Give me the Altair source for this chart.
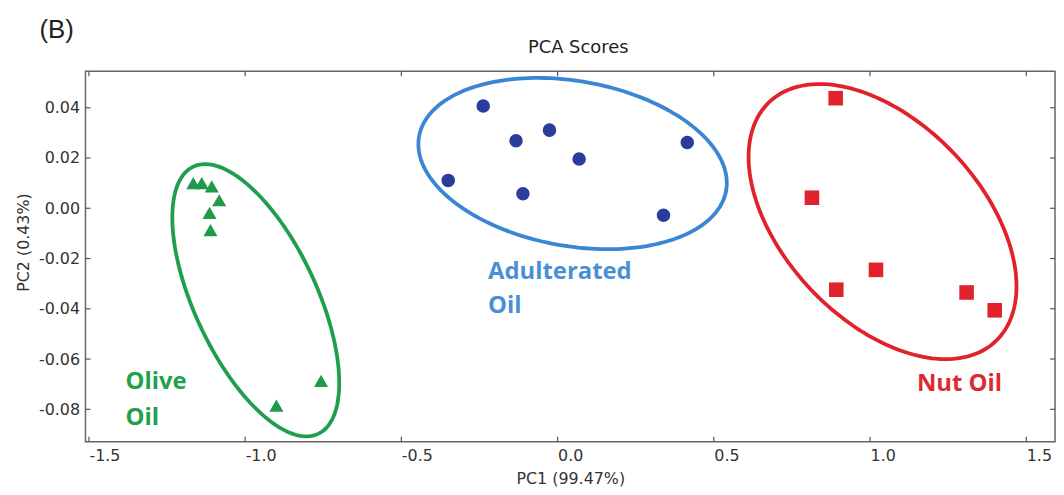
import altair as alt
import numpy as np
import pandas as pd

# ---------------- data ----------------
groups = ["Olive Oil", "Adulterated Oil", "Nut Oil"]

olive_pc1 = [-1.166, -1.139, -1.107, -1.083, -1.114, -1.111, -0.757, -0.900]
olive_pc2 = [0.0100, 0.0100, 0.0087, 0.0032, -0.0018, -0.0087, -0.0687, -0.0785]

adult_pc1 = [-0.238, -0.026, -0.133, 0.069, -0.350, -0.111, 0.415, 0.339]
adult_pc2 = [0.0407, 0.0311, 0.0269, 0.0196, 0.0111, 0.0058, 0.0262, -0.0028]

nut_pc1 = [0.890, 0.814, 1.019, 0.892, 1.309, 1.399]
nut_pc2 = [0.0438, 0.0042, -0.0245, -0.0324, -0.0335, -0.0406]

# group ellipses: centre (PC1, PC2), semi-axes (in PC1 units as drawn), tilt (deg, clockwise)
ell_cx = [-0.966, 0.048, 1.040]
ell_cy = [-0.0366, 0.0178, -0.0053]
ell_a = [0.472, 0.499, 0.527]
ell_b = [0.196, 0.264, 0.316]
ell_angle = [65.0, 10.0, 46.6]

# annotation labels
label_text = ["Olive", "Oil", "Adulterated", "Oil", "Nut Oil"]
label_group = ["Olive Oil", "Olive Oil", "Adulterated Oil", "Adulterated Oil", "Nut Oil"]
label_pc1 = [-1.383, -1.383, -0.2225, -0.2225, 1.150]
label_pc2 = [-0.0719, -0.0864, -0.0281, -0.0415, -0.0726]

x_ticks = [-1.5, -1.0, -0.5, 0.0, 0.5, 1.0, 1.5]
y_ticks = [-0.08, -0.06, -0.04, -0.02, 0.00, 0.02, 0.04]

plot_title = "PCA Scores"
panel_letter = "(B)"

# ---------------- styling ----------------
W, H = 976, 373
x_dom = [-1.511, 1.592]
y_dom = [-0.0929, 0.05455]

point_color = {"Olive Oil": "#1f9a4b", "Adulterated Oil": "#2b3c9c", "Nut Oil": "#e2222b"}
ell_color = {"Olive Oil": "#1f9e4d", "Adulterated Oil": "#3a86d2", "Nut Oil": "#e2222b"}
text_color = {"Olive Oil": "#22a04b", "Adulterated Oil": "#4a8fd6", "Nut Oil": "#dc2a30"}
shapes = {"Olive Oil": "triangle-up", "Adulterated Oil": "circle", "Nut Oil": "square"}
sizes = {"Olive Oil": 200, "Adulterated Oil": 185, "Nut Oil": 215}

pts = {
    "Olive Oil": (olive_pc1, olive_pc2),
    "Adulterated Oil": (adult_pc1, adult_pc2),
    "Nut Oil": (nut_pc1, nut_pc2),
}

xs = alt.Scale(domain=x_dom, nice=False, zero=False)
ys = alt.Scale(domain=y_dom, nice=False, zero=False)

AX_FONT = "DejaVu Sans"
xaxis = alt.Axis(
    values=x_ticks,
    labelExpr="replace(format(datum.value, '.1f'), '\u2212', '-')",
    labelAlign="left", labelPadding=6, labelFont=AX_FONT, labelFontSize=16,
    labelColor="#333333", ticks=False, tickSize=0, domain=False, grid=False,
    title="PC1 (99.47%)", titleFont=AX_FONT, titleFontSize=16,
    titleFontWeight="normal", titleColor="#333333",
    titleBaseline="alphabetic", titleY=42,
)
yaxis = alt.Axis(
    values=y_ticks,
    labelExpr="replace(format(datum.value, '.2f'), '\u2212', '-')",
    labelPadding=6, labelFont=AX_FONT, labelFontSize=16,
    labelColor="#333333", ticks=False, tickSize=0, domain=False, grid=False,
    title="PC2 (0.43%)", titleFont=AX_FONT, titleFontSize=16,
    titleFontWeight="normal", titleColor="#333333",
    titleBaseline="middle", titleX=-62, titleY=172, titleAngle=-90,
)

X = alt.X("pc1:Q", scale=xs, axis=xaxis)
Y = alt.Y("pc2:Q", scale=ys, axis=yaxis)

# px per unit, to draw ellipses with on-screen tilt
sx = W / (x_dom[1] - x_dom[0])
sy = H / (y_dom[1] - y_dom[0])

layers = []
t = np.linspace(0, 2 * np.pi, 181)
for g, cx, cy, a, b, ang in zip(groups, ell_cx, ell_cy, ell_a, ell_b, ell_angle):
    th = np.deg2rad(ang)
    du = a * np.cos(t) * np.cos(th) - b * np.sin(t) * np.sin(th)
    dv = a * np.cos(t) * np.sin(th) + b * np.sin(t) * np.cos(th)
    edf = pd.DataFrame({"pc1": cx + du, "pc2": cy - dv * sx / sy, "i": np.arange(len(t))})
    layers.append(
        alt.Chart(edf).mark_line(strokeWidth=3.8, color=ell_color[g]).encode(
            x=X, y=Y, order="i:Q"
        )
    )

for g in groups:
    px, py = pts[g]
    pdf = pd.DataFrame({"pc1": px, "pc2": py})
    layers.append(
        alt.Chart(pdf).mark_point(
            filled=True, opacity=1, shape=shapes[g], size=sizes[g], color=point_color[g]
        ).encode(x=X, y=Y)
    )

ldf = pd.DataFrame({"pc1": label_pc1, "pc2": label_pc2, "t": label_text,
                    "c": [text_color[g] for g in label_group]})
layers.append(
    alt.Chart(ldf).mark_text(
        align="left", baseline="alphabetic", font="Open Sans", fontWeight="bold", fontSize=24
    ).encode(x=X, y=Y, text="t:N", color=alt.Color("c:N", scale=None))
)

# inward ticks on all four sides
xt = pd.DataFrame({"pc1": x_ticks})
yt = pd.DataFrame({"pc2": y_ticks})
tick_style = dict(color="#555555", strokeWidth=1.2)
layers.append(alt.Chart(xt).mark_rule(**tick_style).encode(x=X, y=alt.value(H), y2=alt.value(H - 5)))
layers.append(alt.Chart(xt).mark_rule(**tick_style).encode(x=X, y=alt.value(0), y2=alt.value(5)))
layers.append(alt.Chart(yt).mark_rule(**tick_style).encode(y=Y, x=alt.value(0), x2=alt.value(5)))
layers.append(alt.Chart(yt).mark_rule(**tick_style).encode(y=Y, x=alt.value(W), x2=alt.value(W - 5)))

# panel letter and plot title (placed above the frame)
pl = pd.DataFrame({"t": [panel_letter]})
layers.append(
    alt.Chart(pl).mark_text(font="Liberation Sans", fontSize=26, align="center",
                            baseline="middle", color="#222222").encode(
        x=alt.value(-29), y=alt.value(-41), text="t:N")
)
tl = pd.DataFrame({"t": [plot_title]})
layers.append(
    alt.Chart(tl).mark_text(font="DejaVu Sans", fontSize=18, align="center",
                            baseline="middle", color="#222222").encode(
        x=alt.value(W / 2 + 8), y=alt.value(-23), text="t:N")
)

chart = alt.layer(*layers).properties(
    width=W, height=H,
    autosize=alt.AutoSizeParams(type="none"),
    padding={"left": 78, "top": 62, "right": 1, "bottom": 52},
).configure_view(stroke="#666666", strokeWidth=1.5)

chart.save("out.html", embed_options={"renderer": "svg", "actions": False})
